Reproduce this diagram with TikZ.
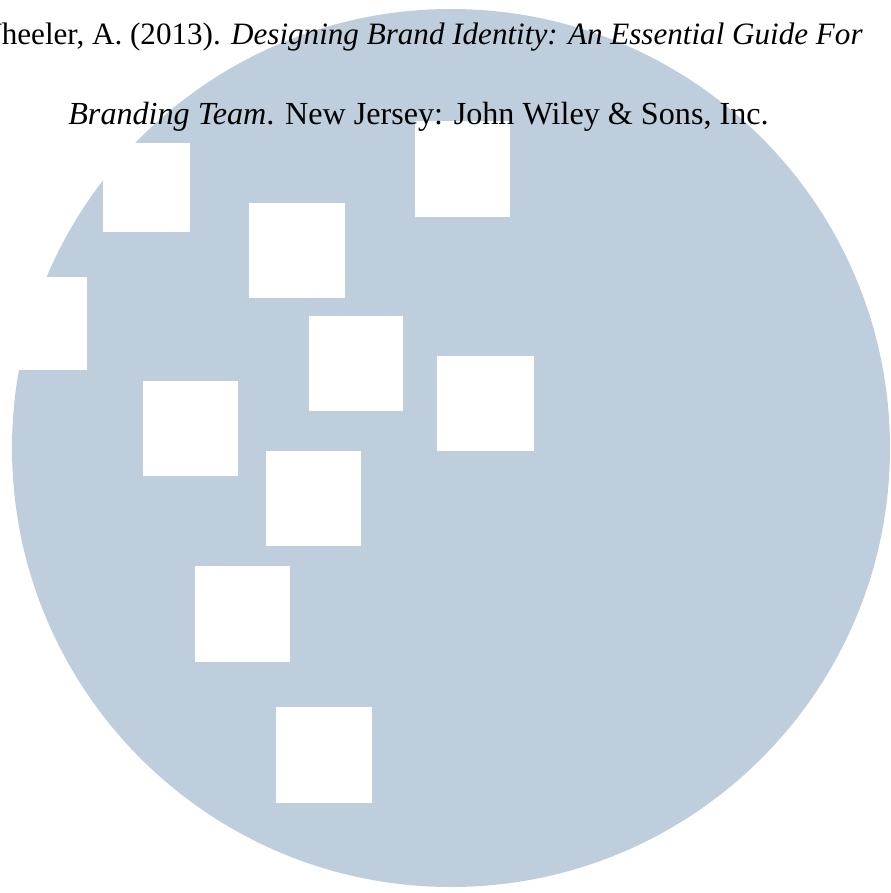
\documentclass[tikz,border=0pt]{standalone}
\usepackage{fontspec}
\setmainfont{Liberation Serif}
\usepackage{tikz}

\definecolor{disc}{RGB}{191,206,220}
\tikzset{
  tile/.style={fill=white},
  refline/.style={inner sep=0pt, font=\fontsize{18.3}{21}\selectfont}
}

\begin{document}
\begin{tikzpicture}[x=0.02cm, y=-0.02cm]
           \useasboundingbox (0,0) rectangle (891,893);
           \fill[disc] (451,448) circle (439);
           \fill[tile] (103,143) rectangle (190,232);
           \fill[tile] (-5,277) rectangle (87,370);
           \fill[tile] (415,121) rectangle (510,217);
           \fill[tile] (249,203) rectangle (345,298);
           \fill[tile] (309,316) rectangle (403,411);
           \fill[tile] (437,356) rectangle (534,451);
           \fill[tile] (143,381) rectangle (238,476);
           \fill[tile] (266,451) rectangle (361,546);
           \fill[tile] (195,566) rectangle (290,662);
           \fill[tile] (276,707) rectangle (372,803);
           \node[refline, font=\fontsize{17.7}{21}\selectfont, anchor=base east] (cite1) at (863,44) {Wheeler, A. (2013). \textit{Designing Brand Identity: An Essential Guide For}};
           \node[refline, anchor=base west] (cite2) at (68,124) {\textit{Branding Team}. New Jersey: John Wiley \& Sons, Inc.};
        \end{tikzpicture}
\end{document}
